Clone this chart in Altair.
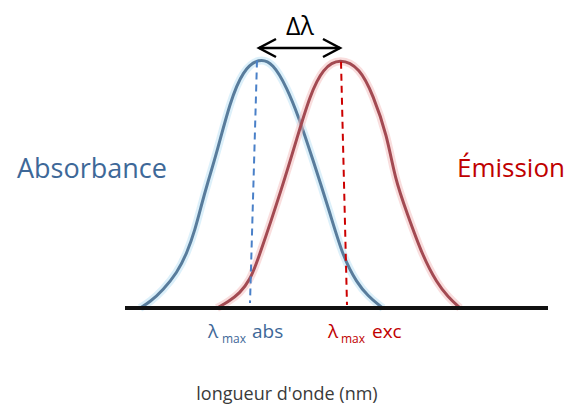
import altair as alt
import pandas as pd

# ---- data (wavelength in nm, normalised intensity) ----
abs_wl = [290, 300, 313, 327, 337, 345, 352, 357, 367, 380, 393, 409, 423, 437, 448, 463, 480, 493, 507, 518, 530, 533]
abs_int = [0.0, 0.024, 0.072, 0.14, 0.22, 0.312, 0.42, 0.492, 0.624, 0.824, 0.952, 1.0, 0.98, 0.88, 0.772, 0.592, 0.38, 0.204, 0.10, 0.048, 0.008, 0.0]

em_wl = [367, 378, 390, 400, 408, 433, 447, 460, 473, 490, 510, 523, 537, 545, 557, 573, 587, 598, 610]
em_int = [0.0, 0.024, 0.06, 0.112, 0.192, 0.492, 0.68, 0.852, 0.96, 1.0, 0.96, 0.852, 0.692, 0.516, 0.38, 0.204, 0.10, 0.044, 0.0]

lambda_max = {"abs": 409, "exc": 490}
# dashed markers: top / bottom wavelength (slightly slanted in the original)
marker_top = [407, 491]
marker_bottom = [400, 497]
marker_names = ["abs", "exc"]

baseline_range = [275, 698]

FONT = "Open Sans"
BLUE = "#587c9c"
RED = "#a34a52"
BLUE_TXT = "#3e6898"
RED_TXT = "#c00000"

W, H = 558, 396
xs = alt.Scale(domain=[158, 716], nice=False, zero=False)
ys = alt.Scale(domain=[-0.384, 1.2], nice=False, zero=False)

abs_df = pd.DataFrame({"wl": abs_wl, "I": abs_int})
em_df = pd.DataFrame({"wl": em_wl, "I": em_int})


def curve(df, halo, core):
    base = alt.Chart(df).encode(
        x=alt.X("wl:Q", scale=xs, axis=None),
        y=alt.Y("I:Q", scale=ys, axis=None),
    )
    return (
        base.mark_line(interpolate="basis", color=halo, strokeWidth=8, opacity=0.5)
        + base.mark_line(interpolate="basis", color=core, strokeWidth=3)
    )


baseline = alt.Chart(pd.DataFrame({"x": [baseline_range[0]], "x2": [baseline_range[1]], "y": [0]})).mark_rule(
    color="#111111", strokeWidth=4
).encode(
    x=alt.X("x:Q", scale=xs, axis=None), x2="x2:Q", y=alt.Y("y:Q", scale=ys, axis=None)
)

mk = pd.DataFrame({"name": marker_names, "top": marker_top, "bottom": marker_bottom,
                   "ytop": [0.99, 0.985], "ybot": [0.02, 0.012]})
markers = alt.Chart(mk).mark_rule(strokeWidth=2, strokeDash=[7, 5]).encode(
    x=alt.X("top:Q", scale=xs, axis=None),
    x2="bottom:Q",
    y=alt.Y("ytop:Q", scale=ys, axis=None),
    y2="ybot:Q",
    color=alt.Color("name:N", scale=alt.Scale(domain=["abs", "exc"], range=["#4a80c8", "#cc0000"]), legend=None),
)

ARROW_Y = 1.04
arr = pd.DataFrame({"a": [lambda_max["abs"]], "b": [lambda_max["exc"]], "y": [ARROW_Y]})
arrow_line = alt.Chart(arr).mark_rule(color="black", strokeWidth=2.5).encode(
    x=alt.X("a:Q", scale=xs, axis=None), x2="b:Q", y=alt.Y("y:Q", scale=ys, axis=None)
)
head_l = alt.Chart(arr).mark_point(
    shape="M1,-0.53L0,0L1,0.53", size=1156, color="black", strokeWidth=2.5, filled=False, opacity=1
).encode(x=alt.X("a:Q", scale=xs, axis=None), y=alt.Y("y:Q", scale=ys, axis=None))
head_r = alt.Chart(arr).mark_point(
    shape="M-1,-0.53L0,0L-1,0.53", size=1156, color="black", strokeWidth=2.5, filled=False, opacity=1
).encode(x=alt.X("b:Q", scale=xs, axis=None), y=alt.Y("y:Q", scale=ys, axis=None))

dummy = pd.DataFrame({"d": [0]})


def txt(text, x, y, size, color, align="left"):
    return alt.Chart(dummy).mark_text(
        text=text, font=FONT, fontSize=size, color=color, align=align, baseline="alphabetic"
    ).encode(x=alt.value(x), y=alt.value(y))


texts = [
    txt("Δλ", 292, 27, 25, "black", "center"),
    txt("Absorbance", 9, 170, 27, BLUE_TXT),
    txt("Émission", 557, 169, 26, RED_TXT, "right"),
    txt("λ", 200, 330, 19, BLUE_TXT),
    txt("max", 214, 335, 12, BLUE_TXT),
    txt("abs", 244, 330, 19, BLUE_TXT),
    txt("λ", 320, 330, 19, RED_TXT),
    txt("max", 333, 335, 12, RED_TXT),
    txt("exc", 364, 330, 19, RED_TXT),
    txt("longueur d'onde (nm)", 279, 392, 18, "#3a3a3a", "center"),
]

chart = alt.layer(
    curve(abs_df, "#b9e2f5", BLUE),
    curve(em_df, "#f3bcbc", RED),
    markers,
    baseline,
    arrow_line,
    head_l,
    head_r,
    *texts,
).properties(
    width=W, height=H, padding=0, autosize=alt.AutoSizeParams(type="none"), background="white"
).configure_view(stroke=None)

chart.save("out.html", embed_options={"renderer": "svg", "actions": False})
